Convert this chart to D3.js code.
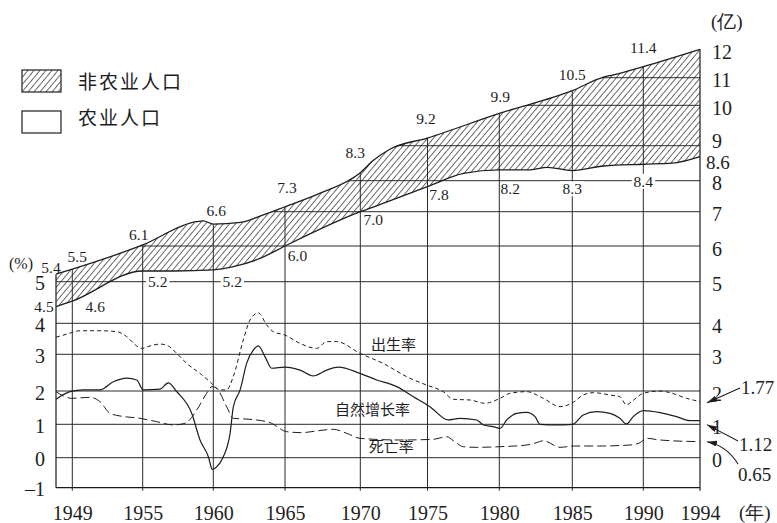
<!DOCTYPE html>
<html><head><meta charset="utf-8">
<script src="https://cdn.jsdelivr.net/npm/d3@7"></script>
<style>body{margin:0;background:#fff}svg{display:block}</style>
</head><body>
<svg id="c" width="777" height="523"></svg>
<script>
// ---------- data ----------
const xTickYears = [1949,1955,1960,1965,1970,1975,1980,1985,1990,1994];
const rateTicksLeft = [-1,0,1,2,3,4,5];
const rateTicksRight = [0,1,2,3,4,5];
const popTicksRight = [6,7,8,9,10,11,12];
const popGrid = [5,6,7,8,9,10,11];

// total population (亿) - top of hatched band
const totalYears = [1948,1955,1958.8,1959.3,1960,1961.9,1963.3,1965,1967.3,1970,1971,1972.2,1975,1980,1985,1987.2,1987.9,1990,1994];
const totalPop   = [5.21,6.03,6.71,6.73,6.64,6.69,6.88,7.16,7.59,8.23,8.59,8.90,9.19,9.80,10.53,11.02,11.10,11.39,12.0];
// agricultural population (亿)
const agriYears = [1948,1949,1955,1957.2,1960,1961.4,1963.3,1965,1970,1971.4,1975,1977.5,1980,1982,1983.3,1985,1987.2,1990,1992,1994];
const agriPop   = [4.5,4.61,5.30,5.30,5.33,5.42,5.66,6.0,7.0,7.22,7.81,8.21,8.31,8.31,8.38,8.29,8.42,8.47,8.50,8.69];

// rates (%)
const birthYears = [1948,1948.66,1949.66,1951.36,1952.79,1953.64,1954.49,1954.91,1955.52,1956.23,1956.81,1957.41,1958.12,1959.06,1959.77,1960.47,1960.93,1961.39,1962.09,1962.56,1963.14,1963.72,1964.18,1965,1966,1967.1,1967.77,1968.43,1969.98,1971.71,1973.45,1974.94,1976.1,1976.8,1977.96,1979,1980.05,1980.73,1981.88,1983.01,1984.16,1984.96,1985.77,1986.48,1987.65,1988.35,1988.82,1989.17,1990,1991.18,1991.88,1993.06,1994];
const birthRate  = [3.55,3.65,3.76,3.76,3.73,3.57,3.27,3.19,3.27,3.33,3.27,3.03,2.75,2.48,2.25,2.03,2.03,2.39,3.46,4.08,4.25,3.95,3.73,3.62,3.35,3.19,3.41,3.41,3.03,2.75,2.39,2.16,1.98,1.75,1.73,1.63,1.78,1.93,1.98,1.78,1.53,1.63,1.88,1.95,1.88,1.83,1.58,1.68,1.93,2.0,1.95,1.78,1.68];

const growthYears = [1948,1948.86,1949.94,1951.36,1952.5,1953.64,1954.49,1955.04,1956.22,1956.81,1957.41,1958.47,1959.06,1959.65,1959.93,1960.24,1960.7,1961.17,1961.4,1961.87,1962.33,1962.8,1963.14,1963.61,1964.07,1965,1966,1966.88,1967.77,1968.54,1969.98,1971.22,1972.71,1973.95,1975.17,1976.45,1977.26,1978.43,1978.89,1979.58,1980.05,1980.51,1981.19,1981.88,1982.45,1982.79,1983.93,1985.03,1985.77,1986.72,1987.65,1988.35,1988.82,1989.29,1990,1991.18,1992.35,1993.29,1994];
const growthRate  = [1.75,1.98,2.03,2.03,2.25,2.35,2.30,2.03,2.05,2.22,1.98,1.33,0.53,0.03,-0.39,-0.30,0.03,0.73,1.53,2.03,2.76,3.14,3.27,2.93,2.62,2.65,2.57,2.41,2.57,2.65,2.48,2.30,2.12,1.83,1.53,1.13,1.18,1.13,0.98,0.93,0.88,1.13,1.33,1.36,1.23,1.0,0.98,1.0,1.28,1.38,1.33,1.18,1.01,1.23,1.41,1.35,1.23,1.11,1.11];

const deathYears = [1948,1948.45,1948.96,1950.51,1951.36,1952.21,1953.07,1954.77,1955.99,1957.17,1958.0,1958.83,1959.53,1959.91,1960.24,1960.93,1961.39,1962.56,1963.95,1965.11,1966,1968.21,1969.1,1969.98,1972.96,1975.4,1976.34,1976.8,1977.49,1978.42,1980.05,1981.88,1982.56,1983.01,1984.16,1985.07,1986.95,1989.06,1989.77,1990.24,1991.18,1994];
const deathRate  = [1.98,1.85,1.78,1.81,1.68,1.33,1.25,1.18,1.08,0.98,1.03,1.43,1.93,2.12,2.07,1.53,1.18,1.15,1.05,0.78,0.75,0.85,0.73,0.58,0.53,0.55,0.63,0.51,0.33,0.31,0.33,0.38,0.45,0.51,0.31,0.35,0.35,0.38,0.45,0.58,0.53,0.48];

// value annotations
const upperNotes = ["5.4","5.5","6.1","6.6","7.3","8.3","9.2","9.9","10.5","11.4"];
const upperNoteYears = [1948,1949,1955,1960,1965,1970,1975,1980,1985,1990];
const lowerNotes = ["4.5","4.6","5.2","5.2","6.0","7.0","7.8","8.2","8.3","8.4"];
const lowerNoteYears = [1948,1949,1955,1960,1965,1970,1975,1980,1985,1990];
const endNotes = ["1.77","1.12","0.65"];
const legendLabels = ["非农业人口","农业人口"];
const curveLabels = ["出生率","自然增长率","死亡率"];

// ---------- scales (hand-drawn, piecewise) ----------
const x = d3.scaleLinear()
  .domain([1948,1949,1955,1960,1965,1970,1975,1980,1985,1990,1994])
  .range([56,72.3,142.7,213.3,285,360.3,427.5,499.3,572.3,643.3,700]);
const pop = d3.scaleLinear()
  .domain([4.5,5,6,7,8,9,10,11,12])
  .range([306.7,281.7,246,211.7,180.7,145.7,105.3,77.7,49.3]);
const rate = d3.scaleLinear()
  .domain([-1,0,1,2,3,4,5])
  .range([487.7,457.7,424.3,391,354.3,323.3,281.7]);

const SERIF = "'Liberation Serif','Times New Roman',serif";
const CJK = "'Noto Sans CJK SC','Noto Sans CJK JP',sans-serif";
const INK = "#1e1e1e";

const svg = d3.select("#c");
const defs = svg.append("defs");
const pat = defs.append("pattern").attr("id","hatch")
  .attr("patternUnits","userSpaceOnUse").attr("width",4.6).attr("height",10)
  .attr("patternTransform","rotate(40)");
pat.append("line").attr("x1",2.3).attr("x2",2.3).attr("y1",-1).attr("y2",11)
  .attr("stroke","#333").attr("stroke-width",0.75);

defs.append("marker").attr("id","ah").attr("viewBox","0 0 10 6")
  .attr("refX",10).attr("refY",3).attr("markerWidth",10).attr("markerHeight",6)
  .attr("markerUnits","userSpaceOnUse").attr("orient","auto")
  .append("path").attr("d","M0,0 L10,3 L0,6 Z").attr("fill",INK);

const totalPts = d3.zip(totalYears,totalPop);
const agriPts = d3.zip(agriYears,agriPop);
const popArea = base => d3.area().x(d=>x(d[0])).y0(base).y1(d=>pop(d[1])).curve(d3.curveMonotoneX);
const popLine = d3.line().x(d=>x(d[0])).y(d=>pop(d[1])).curve(d3.curveMonotoneX);
const rateLine = d3.line().x(d=>x(d[0])).y(d=>rate(d[1])).curve(d3.curveMonotoneX);

const x0 = x(1948), x1 = x(1994), yBot = rate(-1);
const baseY = pop(4.5) + 12;

// hatched band: non-agricultural population
svg.append("path").attr("d", popArea(baseY)(totalPts)).attr("fill","url(#hatch)");
svg.append("path").attr("d", popArea(baseY+2)(agriPts)).attr("fill","#fff");

// clip region under the total curve for grid lines
defs.append("clipPath").attr("id","under").append("path").attr("d", popArea(yBot+6)(totalPts));

const grid = svg.append("g").attr("clip-path","url(#under)")
  .attr("stroke","#2a2a2a").attr("stroke-width",1);
grid.selectAll(".hp").data(popGrid).join("line")
  .attr("x1",x0).attr("x2",x1).attr("y1",d=>pop(d)).attr("y2",d=>pop(d));
grid.selectAll(".vg").data(xTickYears.slice(0,-1)).join("line")
  .attr("x1",d=>x(d)).attr("x2",d=>x(d)).attr("y1",yBot+3).attr("y2",pop(12.5));

const grid2 = svg.append("g").attr("stroke","#2a2a2a").attr("stroke-width",1);
grid2.selectAll("line").data(rateTicksLeft.filter(v=>v>=0 && v<5)).join("line")
  .attr("x1",x0).attr("x2",x1).attr("y1",d=>rate(d)).attr("y2",d=>rate(d));

// axes frame
const frame = svg.append("g").attr("stroke","#1a1a1a").attr("stroke-width",1.2);
frame.append("line").attr("x1",x0).attr("x2",x1).attr("y1",yBot).attr("y2",yBot);
frame.append("line").attr("x1",x0).attr("x2",x0).attr("y1",pop(totalPop[0])).attr("y2",yBot);
frame.append("line").attr("x1",x1).attr("x2",x1).attr("y1",pop(12)).attr("y2",yBot+3);

// population curves
svg.append("path").attr("d",popLine(totalPts)).attr("fill","none").attr("stroke",INK).attr("stroke-width",1.3);
svg.append("path").attr("d",popLine(agriPts)).attr("fill","none").attr("stroke",INK).attr("stroke-width",1.3);

// rate curves
svg.append("path").attr("d",rateLine(d3.zip(birthYears,birthRate))).attr("fill","none")
  .attr("stroke",INK).attr("stroke-width",1).attr("stroke-dasharray","4,3");
svg.append("path").attr("d",rateLine(d3.zip(growthYears,growthRate))).attr("fill","none")
  .attr("stroke",INK).attr("stroke-width",1.2);
svg.append("path").attr("d",rateLine(d3.zip(deathYears,deathRate))).attr("fill","none")
  .attr("stroke",INK).attr("stroke-width",1).attr("stroke-dasharray","9,4");

// ---------- axes labels ----------
const fmtInt = d => d < 0 ? "\u2013" + (-d) : String(d);
function styleAxis(g){
  g.select(".domain").remove();
  g.selectAll(".tick line").remove();
  g.selectAll("text").attr("font-family",SERIF).attr("font-size",20).attr("fill",INK);
}
svg.append("g").attr("transform",`translate(0,${yBot})`)
  .call(d3.axisBottom(x).tickValues(xTickYears).tickFormat(d3.format("d")).tickSize(0).tickPadding(18))
  .call(styleAxis);
svg.append("g").attr("transform",`translate(${x0},0)`)
  .call(d3.axisLeft(rate).tickValues(rateTicksLeft).tickFormat(fmtInt).tickSize(0).tickPadding(11))
  .call(styleAxis).selectAll("text").attr("dy","0.4em");
svg.append("g").attr("transform",`translate(${x1},0)`)
  .call(d3.axisRight(rate).tickValues(rateTicksRight).tickFormat(fmtInt).tickSize(0).tickPadding(12))
  .call(styleAxis).selectAll("text").attr("dy","0.45em");
svg.append("g").attr("transform",`translate(${x1},0)`)
  .call(d3.axisRight(pop).tickValues(popTicksRight).tickFormat(fmtInt).tickSize(0).tickPadding(12))
  .call(styleAxis).selectAll("text").attr("dy",d=>d===9?"0.09em":"0.45em");
svg.append("text").attr("x",x1+6).attr("y",pop(8.6)).attr("dy","0.49em")
  .attr("font-family",SERIF).attr("font-size",19).attr("fill",INK).text("8.6");

// unit labels
svg.append("text").attr("x",9).attr("y",264).attr("dy","0.33em")
  .attr("font-family",SERIF).attr("font-size",16).attr("fill",INK).text("(%)");
svg.append("text").attr("x",711).attr("y",22).attr("dy","0.33em")
  .attr("font-family",SERIF).attr("font-size",19).attr("fill",INK).text("(亿)");
svg.append("text").attr("x",739).attr("y",513).attr("dy","0.33em")
  .attr("font-family",SERIF).attr("font-size",19).attr("fill",INK).text("(年)");

// ---------- value annotations ----------
const upDx = [-5,5,-4,3,2,-5,-1.5,1,0,0];
const upDy = [0,-7,-8,-15,-15,-17,-19,-12,-17,-18];
const loDx = [-12,23,15,19,12.5,13,11.5,11,0,0];
const loDy = [0,5,7,7,10,8,8,15,19,15];
const loBg = [0,0,1,1,0,0,0,0,1,1];
const notes = svg.append("g").attr("font-family",SERIF).attr("font-size",15.5)
  .attr("fill",INK).attr("text-anchor","middle");
upperNotes.forEach((t,i)=>{
  notes.append("text").attr("x",x(upperNoteYears[i])+upDx[i]).attr("y",pop(+t)+upDy[i])
    .attr("dy","0.33em").text(t);
});
lowerNotes.forEach((t,i)=>{
  const tx = notes.append("text").attr("x",x(lowerNoteYears[i])+loDx[i]).attr("y",pop(+t)+loDy[i])
    .attr("dy","0.33em").text(t);
  if(loBg[i]){
    const b = tx.node().getBBox();
    notes.insert("rect","text").attr("x",b.x-2).attr("y",b.y+1).attr("width",b.width+4)
      .attr("height",b.height-2).attr("fill","#fff");
  }
});
notes.selectAll("text").raise();

// ---------- curve labels ----------
const cl = svg.append("g").attr("font-family",CJK).attr("font-size",15).attr("fill",INK)
  .attr("text-anchor","middle");
const clYears = [1972.47,1970.9,1972.3];
const clVals = [3.3,1.43,0.32];
curveLabels.forEach((t,i)=>{
  cl.append("text").attr("x",x(clYears[i])).attr("y",rate(clVals[i])).attr("dy","0.36em").text(t);
});

// ---------- end arrows ----------
const endVals = [birthRate[birthRate.length-1], growthRate[growthRate.length-1], deathRate[deathRate.length-1]];
const endDy = [1,4,0];
const labPos = [[741,388],[739,445],[738,475]];
const arrows = svg.append("g").attr("fill","none").attr("stroke",INK).attr("stroke-width",1.1);
const tipX = x1+7;
arrows.append("path").attr("d",`M${labPos[0][0]-1},${labPos[0][1]} L${tipX},${rate(endVals[0])+endDy[0]}`).attr("marker-end","url(#ah)");
arrows.append("path").attr("d",`M${labPos[1][0]-1},${labPos[1][1]-4} L${tipX},${rate(endVals[1])+endDy[1]}`).attr("marker-end","url(#ah)");
arrows.append("path").attr("d",`M${labPos[2][0]},${labPos[2][1]-11} Q${labPos[2][0]-11},${rate(endVals[2])+4} ${tipX},${rate(endVals[2])+endDy[2]}`).attr("marker-end","url(#ah)");
endNotes.forEach((t,i)=>{
  svg.append("text").attr("x",labPos[i][0]).attr("y",labPos[i][1]).attr("dy","0.33em")
    .attr("font-family",SERIF).attr("font-size",19).attr("fill",INK).text(t);
});

// ---------- legend ----------
const lg = svg.append("g");
lg.append("rect").attr("x",22).attr("y",70).attr("width",39).attr("height",22)
  .attr("fill","url(#hatch)").attr("stroke",INK).attr("stroke-width",1.2);
lg.append("rect").attr("x",22).attr("y",111).attr("width",39).attr("height",22)
  .attr("fill","#fff").attr("stroke",INK).attr("stroke-width",1.2);
legendLabels.forEach((t,i)=>{
  lg.append("text").attr("x",78).attr("y",i?118:82).attr("dy","0.36em")
    .attr("font-family",CJK).attr("font-size",19).attr("letter-spacing",2)
    .attr("fill",INK).text(t);
});
</script>
</body></html>
